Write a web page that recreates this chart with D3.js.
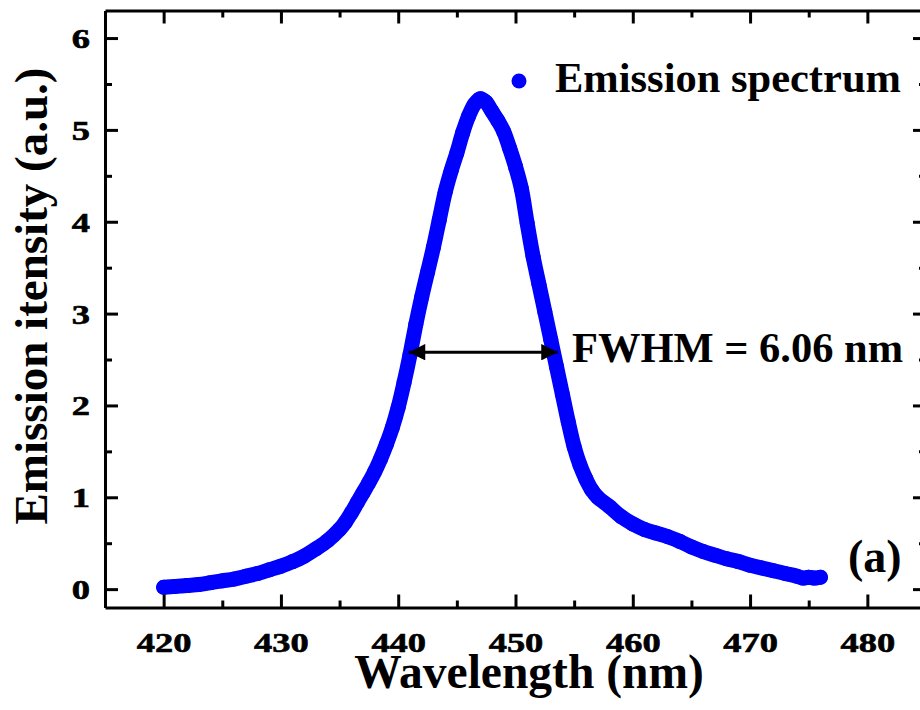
<!DOCTYPE html>
<html>
<head>
<meta charset="utf-8">
<script src="https://cdn.jsdelivr.net/npm/d3@7"></script>
<style>
  html, body { margin: 0; padding: 0; background: #fff; }
  svg { display: block; }
  text { font-family: "Liberation Serif", "Times New Roman", serif; font-weight: bold; fill: #000; }
</style>
</head>
<body>
<svg id="chart" width="920" height="710"></svg>
<script>
// ---- data ----
const wavelength = [420,421,422,423,424,425,426,427,428,429,430,431,432,433,434,435,435.5,436,436.5,437,437.5,438,438.5,439,439.5,440,440.5,441,441.5,442,442.5,443,443.5,444,444.5,445,445.5,446,446.5,447,447.5,448,448.5,449,449.5,450,450.5,451,451.5,452,452.5,453,453.5,454,454.5,455,455.5,456,456.5,457,458,459,460,461,462,463,464,465,466,467,468,469,470,471,472,473,474,474.5,475,475.5,476];
const intensity  = [0.02,0.03,0.04,0.05,0.07,0.09,0.11,0.14,0.17,0.21,0.25,0.30,0.36,0.44,0.53,0.65,0.73,0.83,0.94,1.05,1.16,1.28,1.42,1.58,1.76,1.98,2.25,2.55,2.88,3.18,3.45,3.72,4.02,4.32,4.55,4.75,4.97,5.15,5.28,5.34,5.30,5.20,5.10,4.98,4.80,4.60,4.36,3.98,3.62,3.32,3.02,2.72,2.42,2.12,1.82,1.55,1.35,1.20,1.08,1.00,0.90,0.79,0.71,0.65,0.61,0.57,0.52,0.46,0.41,0.37,0.33,0.30,0.26,0.23,0.20,0.17,0.14,0.12,0.13,0.12,0.13];
const xMajorTicks = [420,430,440,450,460,470,480];
const xMinorTicks = [425,435,445,455,465,475];
const yMajorTicks = [0,1,2,3,4,5,6];
const yMinorTicks = [0.5,1.5,2.5,3.5,4.5,5.5];
const xTitle = "Wavelength (nm)";
const yTitle = "Emission itensity (a.u.)";
const legendLabel = "Emission spectrum";
const fwhmLabel = "FWHM = 6.06 nm";
const fwhmRange = [440.9, 453.6];
const fwhmLevel = 2.58;
const panelLabel = "(a)";

// ---- layout ----
const svg = d3.select("#chart");
const X0 = 105, X1 = 926, Y0 = 607.5, Y1 = 10.5;
const x = d3.scaleLinear().domain([415, 485]).range([X0, X1]);
const y = d3.scaleLinear().domain([-0.2, 6.3]).range([Y0, Y1]);
const blue = "#0000ff";
const SX = 1.35; // horizontal stretch of tick labels

const data = wavelength.map((w, i) => ({w, v: intensity[i]}));

// data (dense dots -> thick line + dots)
const plot = svg.append("g");
plot.append("path")
  .datum(data)
  .attr("fill", "none")
  .attr("stroke", blue)
  .attr("stroke-width", 15)
  .attr("stroke-linecap", "round")
  .attr("stroke-linejoin", "round")
  .attr("d", d3.line().x(d => x(d.w)).y(d => y(d.v)).curve(d3.curveCatmullRom));
plot.selectAll("circle.pt").data(data).enter().append("circle")
  .attr("class", "pt")
  .attr("cx", d => x(d.w)).attr("cy", d => y(d.v)).attr("r", 7.5)
  .attr("fill", blue);

// axes
function styleAxis(g) {
  g.selectAll("path.domain").attr("stroke", "#000").attr("stroke-width", 3);
  g.selectAll(".tick line").attr("stroke", "#000").attr("stroke-width", 3);
}
// bottom
const gb = svg.append("g").attr("transform", `translate(0,${Y0})`)
  .call(d3.axisBottom(x).tickValues(xMajorTicks).tickSize(-13).tickSizeOuter(0).tickFormat(d3.format("d")));
styleAxis(gb);
gb.selectAll(".tick text")
  .attr("y", 0).attr("dy", 0)
  .attr("transform", `translate(0,44) scale(${SX},1)`)
  .attr("stroke", "#000").attr("stroke-width", 0.6)
  .style("font-size", "27px");
const gbm = svg.append("g").attr("transform", `translate(0,${Y0})`)
  .call(d3.axisBottom(x).tickValues(xMinorTicks).tickSize(-7).tickSizeOuter(0).tickFormat(""));
styleAxis(gbm); gbm.select("path.domain").remove();

// top
const gt = svg.append("g").attr("transform", `translate(0,${Y1})`)
  .call(d3.axisTop(x).tickValues(xMajorTicks).tickSize(-13).tickSizeOuter(0).tickFormat(""));
styleAxis(gt);
const gtm = svg.append("g").attr("transform", `translate(0,${Y1})`)
  .call(d3.axisTop(x).tickValues(xMinorTicks).tickSize(-7).tickSizeOuter(0).tickFormat(""));
styleAxis(gtm); gtm.select("path.domain").remove();

// left
const gl = svg.append("g").attr("transform", `translate(${X0},0)`)
  .call(d3.axisLeft(y).tickValues(yMajorTicks).tickSize(-13).tickSizeOuter(0).tickFormat(d3.format("d")));
styleAxis(gl);
gl.selectAll(".tick text")
  .attr("x", 0).attr("dy", 0)
  .attr("transform", `translate(-15,9.5) scale(${SX},1)`)
  .attr("text-anchor", "end")
  .attr("stroke", "#000").attr("stroke-width", 0.6)
  .style("font-size", "27px");
const glm = svg.append("g").attr("transform", `translate(${X0},0)`)
  .call(d3.axisLeft(y).tickValues(yMinorTicks).tickSize(-7).tickSizeOuter(0).tickFormat(""));
styleAxis(glm); glm.select("path.domain").remove();

// right
const gr = svg.append("g").attr("transform", `translate(${X1},0)`)
  .call(d3.axisRight(y).tickValues(yMajorTicks).tickSize(-13).tickSizeOuter(0).tickFormat(""));
styleAxis(gr);
const grm = svg.append("g").attr("transform", `translate(${X1},0)`)
  .call(d3.axisRight(y).tickValues(yMinorTicks).tickSize(-7).tickSizeOuter(0).tickFormat(""));
styleAxis(grm); grm.select("path.domain").remove();

// remove default d3 axis fonts
svg.selectAll("g").attr("font-family", null).attr("font-size", null);

// titles
svg.append("text")
  .attr("x", 529).attr("y", 688)
  .attr("text-anchor", "middle")
  .style("font-size", "47.5px")
  .text(xTitle);
svg.append("text")
  .attr("transform", "translate(47,296) rotate(-90)")
  .attr("text-anchor", "middle")
  .style("font-size", "47px")
  .text(yTitle);

// legend
svg.append("circle").attr("cx", 519).attr("cy", 81).attr("r", 7.5).attr("fill", blue);
svg.append("text").attr("x", 555).attr("y", 92).style("font-size", "42.5px").text(legendLabel);

// FWHM arrow
const defs = svg.append("defs");
defs.append("marker").attr("id", "ah")
  .attr("viewBox", "0 0 10 10").attr("refX", 10).attr("refY", 5)
  .attr("markerWidth", 7).attr("markerHeight", 5.5).attr("markerUnits", "strokeWidth")
  .attr("orient", "auto-start-reverse")
  .append("path").attr("d", "M0,0 L10,5 L0,10 Z").attr("fill", "#000");
svg.append("line")
  .attr("x1", x(fwhmRange[0])).attr("x2", x(fwhmRange[1]))
  .attr("y1", y(fwhmLevel)).attr("y2", y(fwhmLevel))
  .attr("stroke", "#000").attr("stroke-width", 3)
  .attr("marker-start", "url(#ah)").attr("marker-end", "url(#ah)");
svg.append("text").attr("x", 572).attr("y", 362).style("font-size", "42.5px").text(fwhmLabel);

// panel label
svg.append("text").attr("x", 848).attr("y", 572).style("font-size", "46px").text(panelLabel);
</script>
</body>
</html>
